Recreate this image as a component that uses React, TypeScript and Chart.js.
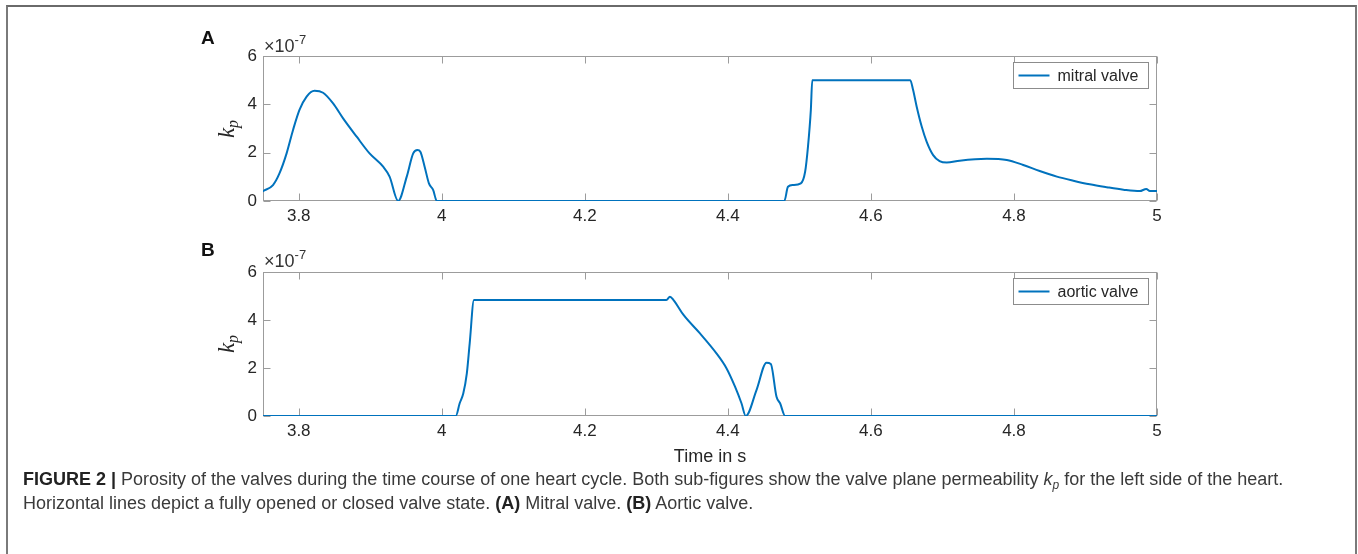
import React, { useEffect, useRef } from "react";
import { Chart, registerables } from "chart.js";

Chart.register(...registerables);

// ---------- data (values in units of 1e-7) ----------
const X_MIN = 3.75;
const X_MAX = 5;
const X_TICKS = [3.8, 4, 4.2, 4.4, 4.6, 4.8, 5];
const X_TICK_LABELS = ["3.8", "4", "4.2", "4.4", "4.6", "4.8", "5"];
const Y_MIN = 0;
const Y_MAX = 6;
const Y_TICKS = [0, 2, 4, 6];
const Y_TICK_LABELS = ["0", "2", "4", "6"];

const MITRAL_T = [
  3.75, 3.764, 3.773, 3.783, 3.792, 3.801, 3.811, 3.822, 3.834, 3.848, 3.862, 3.881, 3.899, 3.918, 3.927,
  3.939, 3.951, 3.96, 3.966, 3.97, 3.976, 3.982, 3.988, 3.993,
  4.2, 4.479, 4.484, 4.491, 4.502, 4.508, 4.512, 4.516, 4.518, 4.655, 4.659, 4.664, 4.671, 4.678, 4.687,
  4.696, 4.706, 4.724, 4.762, 4.79, 4.813, 4.836, 4.86, 4.883, 4.906, 4.93, 4.953, 4.976, 4.985, 4.99, 5.0,
];
const MITRAL_KP = [
  0.41, 0.66, 1.14, 1.97, 2.94, 3.77, 4.32, 4.56, 4.48, 4.04, 3.42, 2.66, 1.97, 1.42, 1.01,
  0, 1.01, 1.97, 2.11, 2.04, 1.42, 0.73, 0.45, 0,
  0, 0, 0.59, 0.66, 0.73, 1.21, 2.25, 3.77, 5.0, 5.0, 4.59, 3.9, 3.08, 2.45, 1.9,
  1.65, 1.59, 1.67, 1.75, 1.7, 1.49, 1.24, 1.01, 0.84, 0.69, 0.57, 0.47, 0.41, 0.5, 0.41, 0.41,
];

const AORTIC_T = [
  3.75, 4.0196, 4.025, 4.03, 4.035, 4.039, 4.045, 4.314, 4.319, 4.324, 4.338, 4.361, 4.384, 4.398,
  4.41, 4.419, 4.425, 4.44, 4.454, 4.46, 4.468, 4.473, 4.48, 5.0,
];
const AORTIC_KP = [
  0, 0, 0.53, 0.94, 1.78, 3.03, 4.83, 4.83, 4.97, 4.83, 4.21, 3.44, 2.61, 1.99,
  1.22, 0.53, 0, 1.08, 2.22, 2.17, 0.8, 0.53, 0, 0,
];

// ---------- style ----------
const FONT = "'Liberation Sans', Arial, Helvetica, sans-serif";
const LINE_COLOR = "#0072BD";
const AXIS_COLOR = "#9c9c9c";
const TEXT_COLOR = "#262626";
const W = 1358;
const AREA_LEFT = 263;
const AREA_RIGHT = 1157;

const axisBoxPlugin = {
  id: "axisBox",
  beforeDatasetsDraw(chart: any) {
    const { ctx, chartArea, scales } = chart;
    const l = Math.round(chartArea.left) + 0.5;
    const r = Math.round(chartArea.right) - 0.5;
    const t = Math.round(chartArea.top) + 0.5;
    const b = Math.round(chartArea.bottom) - 0.5;
    ctx.save();
    ctx.strokeStyle = AXIS_COLOR;
    ctx.lineWidth = 1;
    ctx.strokeRect(l, t, r - l, b - t);
    const tl = 7;
    ctx.beginPath();
    for (const v of X_TICKS) {
      const px = Math.round(scales.x.getPixelForValue(v)) + 0.5;
      ctx.moveTo(px, b);
      ctx.lineTo(px, b - tl);
      ctx.moveTo(px, t);
      ctx.lineTo(px, t + tl);
    }
    for (const v of Y_TICKS) {
      const py = Math.round(scales.y.getPixelForValue(v)) + 0.5;
      ctx.moveTo(l, py);
      ctx.lineTo(l + tl, py);
      ctx.moveTo(r, py);
      ctx.lineTo(r - tl, py);
    }
    ctx.stroke();
    ctx.restore();
  },
};

const boxLegendPlugin = {
  id: "boxLegend",
  afterDatasetsDraw(chart: any) {
    const { ctx, chartArea } = chart;
    const ds = chart.data.datasets[0];
    ctx.save();
    ctx.font = `16px ${FONT}`;
    const tw = ctx.measureText(ds.label).width;
    const bw = Math.round(tw + 54);
    const bh = 26;
    const bx = Math.round(chartArea.right - 9 - bw) + 0.5;
    const by = Math.round(chartArea.top + 6) + 0.5;
    ctx.fillStyle = "#ffffff";
    ctx.fillRect(bx, by, bw, bh);
    ctx.strokeStyle = "#8c8c8c";
    ctx.lineWidth = 1;
    ctx.strokeRect(bx, by, bw, bh);
    const cy = by + bh / 2;
    ctx.strokeStyle = LINE_COLOR;
    ctx.lineWidth = 2;
    ctx.beginPath();
    ctx.moveTo(bx + 5, cy);
    ctx.lineTo(bx + 36, cy);
    ctx.stroke();
    ctx.fillStyle = TEXT_COLOR;
    ctx.textBaseline = "middle";
    ctx.textAlign = "left";
    ctx.fillText(ds.label, bx + 44, cy + 1);
    ctx.restore();
  },
};

type PanelProps = {
  top: number;
  height: number;
  areaTop: number;
  areaBottom: number;
  times: number[];
  values: number[];
  label: string;
  xTitle?: string;
};

function Panel({ top, height, areaTop, areaBottom, times, values, label, xTitle }: PanelProps) {
  const ref = useRef<HTMLCanvasElement | null>(null);
  useEffect(() => {
    if (!ref.current) return;
    const chart = new Chart(ref.current, {
      type: "line",
      data: {
        datasets: [
          {
            label,
            data: times.map((t, i) => ({ x: t, y: values[i] })),
            borderColor: LINE_COLOR,
            borderWidth: 2,
            pointRadius: 0,
            fill: false,
            cubicInterpolationMode: "monotone",
            borderJoinStyle: "round",
            borderCapStyle: "round",
          } as any,
        ],
      },
      options: {
        animation: false,
        responsive: false,
        events: [],
        layout: { padding: { left: 0, top: areaTop, right: W - AREA_RIGHT, bottom: 0 } },
        plugins: { legend: { display: false }, tooltip: { enabled: false }, title: { display: false } },
        scales: {
          x: {
            type: "linear",
            min: X_MIN,
            max: X_MAX,
            grid: { display: false, drawTicks: false },
            border: { display: false },
            afterBuildTicks: (s: any) => {
              s.ticks = X_TICKS.map((v) => ({ value: v }));
            },
            afterFit: (s: any) => {
              s.height = height - areaBottom;
            },
            ticks: {
              autoSkip: false,
              maxRotation: 0,
              minRotation: 0,
              padding: 5,
              color: TEXT_COLOR,
              font: { family: FONT, size: 17 },
              callback: (_v: any, i: number) => X_TICK_LABELS[i],
            },
            title: {
              display: !!xTitle,
              text: xTitle || "",
              color: TEXT_COLOR,
              font: { family: FONT, size: 18 },
              padding: { top: 0, bottom: 2 },
            },
          },
          y: {
            type: "linear",
            min: Y_MIN,
            max: Y_MAX,
            grid: { display: false, drawTicks: false },
            border: { display: false },
            afterBuildTicks: (s: any) => {
              s.ticks = Y_TICKS.map((v) => ({ value: v }));
            },
            afterFit: (s: any) => {
              s.width = AREA_LEFT;
            },
            ticks: {
              autoSkip: false,
              padding: 6,
              color: TEXT_COLOR,
              font: { family: FONT, size: 17 },
              callback: (_v: any, i: number) => Y_TICK_LABELS[i],
            },
          },
        },
      } as any,
      plugins: [axisBoxPlugin, boxLegendPlugin],
    });
    return () => chart.destroy();
  }, []);
  return (
    <canvas
      ref={ref}
      width={W}
      height={height}
      style={{ position: "absolute", left: 0, top, width: W, height }}
    />
  );
}

function Kp({ left, top }: { left: number; top: number }) {
  return (
    <div
      style={{
        position: "absolute",
        left,
        top,
        transform: "translate(-50%, -50%) rotate(-90deg)",
        fontFamily: "'Liberation Serif', 'DejaVu Serif', serif",
        fontSize: 23,
        color: TEXT_COLOR,
        whiteSpace: "nowrap",
        lineHeight: "23px",
      }}
    >
      <i>k</i>
      <sub style={{ fontSize: 16, fontStyle: "italic", verticalAlign: "-4px" }}>p</sub>
    </div>
  );
}

function Exponent({ left, baseline }: { left: number; baseline: number }) {
  return (
    <div
      style={{
        position: "absolute",
        left,
        top: baseline - 17,
        fontFamily: FONT,
        fontSize: 18,
        lineHeight: "20px",
        color: "#333333",
        whiteSpace: "nowrap",
      }}
    >
      ×10<sup style={{ fontSize: 13, verticalAlign: "8px", lineHeight: "0px" }}>-7</sup>
    </div>
  );
}

function PanelLetter({ text, left, top }: { text: string; left: number; top: number }) {
  return (
    <div
      style={{
        position: "absolute",
        left,
        top,
        fontFamily: FONT,
        fontWeight: "bold",
        fontSize: 19,
        lineHeight: "19px",
        color: "#111111",
      }}
    >
      {text}
    </div>
  );
}

export default function App() {
  return (
    <div
      style={{
        position: "absolute",
        left: 0,
        top: 0,
        width: W,
        height: 554,
        overflow: "hidden",
        background: "#ffffff",
      }}
    >
      <div
        style={{
          position: "absolute",
          left: 6,
          top: 5,
          width: 1347,
          height: 700,
          borderTop: "2px solid #6a6a6a",
          borderLeft: "2px solid #7a7a7a",
          borderRight: "2px solid #7a7a7a",
        }}
      />
      <Panel top={0} height={240} areaTop={56} areaBottom={201} times={MITRAL_T} values={MITRAL_KP} label="mitral valve" />
      <Panel
        top={230}
        height={240}
        areaTop={42}
        areaBottom={186}
        times={AORTIC_T}
        values={AORTIC_KP}
        label="aortic valve"
        xTitle="Time in s"
      />
      <PanelLetter text="A" left={201} top={28} />
      <PanelLetter text="B" left={201} top={240} />
      <Exponent left={264} baseline={53} />
      <Exponent left={264} baseline={268} />
      <Kp left={229} top={129} />
      <Kp left={229} top={344} />
      <div
        style={{
          position: "absolute",
          left: 23,
          top: 467,
          fontFamily: FONT,
          fontSize: 18,
          lineHeight: "24px",
          color: "#3a3a3a",
          whiteSpace: "nowrap",
        }}
      >
        <div>
          <b style={{ color: "#222" }}>FIGURE 2 |</b> Porosity of the valves during the time course of one heart cycle.
          Both sub-figures show the valve plane permeability <i>k</i>
          <sub style={{ fontSize: 12, fontStyle: "italic", verticalAlign: "-4px", lineHeight: "0px" }}>p</sub> for the
          left side of the heart.
        </div>
        <div>
          Horizontal lines depict a fully opened or closed valve state. <b style={{ color: "#222" }}>(A)</b> Mitral
          valve. <b style={{ color: "#222" }}>(B)</b> Aortic valve.
        </div>
      </div>
    </div>
  );
}
